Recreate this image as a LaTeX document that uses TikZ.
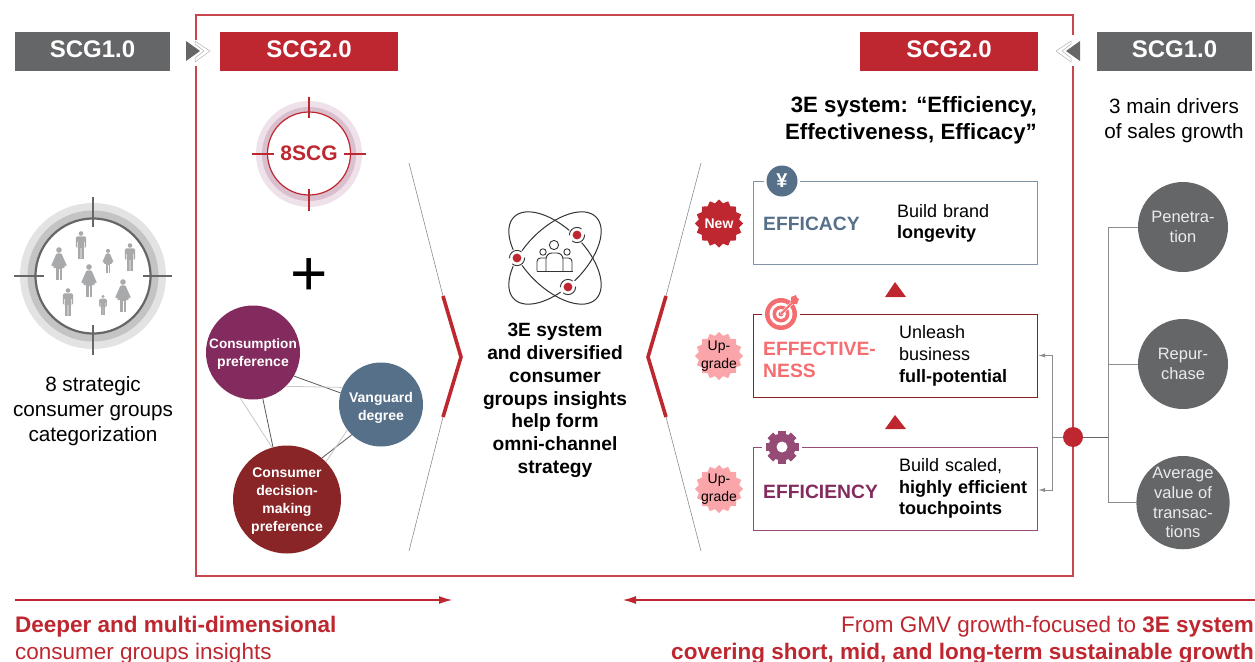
\documentclass[tikz,border=0pt]{standalone}
\usepackage{fontspec}
\setmainfont{Liberation Sans}
\usetikzlibrary{positioning,shapes.geometric,arrows.meta}
\definecolor{scgred}{HTML}{BE2730}
\definecolor{scggray}{HTML}{656668}
\definecolor{plum}{HTML}{832A5E}
\definecolor{slate}{HTML}{567089}
\definecolor{coral}{HTML}{F46D70}
\definecolor{wine}{HTML}{892527}
\definecolor{pink}{HTML}{FAA5A9}
\definecolor{person}{HTML}{A8A9AB}
\newcommand{\fsz}[2]{\fontsize{#1}{#2}\selectfont}
\newcommand{\lift}[1]{\rule{0pt}{#1pt}}
\tikzset{
  man/.pic={
    \fill[person] (0,-11.5) circle (2.3);
    \fill[person,rounded corners=1.5] (-5.2,-8.6) rectangle (5.2,3);
    \fill[person] (-3.2,-8) rectangle (3.2,13.5);
    \fill[white] (-3.6,-3) rectangle (-3.1,3.2) (3.1,-3) rectangle (3.6,3.2) (-.3,3) rectangle (.3,13.6);
  },
  woman/.pic={
    \fill[person] (0,-14) circle (2.8);
    \fill[person,rounded corners=1] (-2.5,-10.6) -- (2.5,-10.6) -- (8,2) -- (6,2.6) -- (4,-3) -- (6,4) -- (-6,4) -- (-4,-3) -- (-6,2.6) -- (-8,2) -- cycle;
    \fill[person] (-3.4,4) rectangle (3.4,16);
    \fill[white] (-.4,5) rectangle (.4,16.1);
  }
}
\begin{document}
\begin{tikzpicture}[x=1pt,y=-1pt]
\tikzstyle{hdr}=[minimum height=39pt,inner sep=0pt,outer sep=0pt,text=white,text depth=5pt,font=\bfseries\fsz{24}{24}];
\tikzstyle{ball}=[circle,inner sep=0pt,outer sep=0pt,text=white,align=center,font=\bfseries\fsz{14}{18}];
\tikzstyle{driver}=[circle,minimum size=90pt,inner sep=0pt,outer sep=0pt,fill=scggray,text=white!92!black,align=center,font=\fsz{16.5}{19.6}];
\tikzstyle{card}=[rectangle,draw,line width=1pt,minimum width=284pt,inner sep=0pt];
\tikzstyle{cardtitle}=[inner sep=0pt,align=left,font=\bfseries\fsz{19.3}{22}];
\tikzstyle{cardtext}=[inner sep=0pt,align=left,text width=135pt,font=\fsz{18}{21.7}];
\tikzstyle{badge}=[star,star points=16,star point ratio=1.17,minimum size=48pt,inner sep=0pt];
\tikzstyle{plain}=[inner sep=0pt,align=center,font=\fsz{20.7}{25}];
\tikzstyle{thinline}=[draw=black!45,line width=.6pt];
\tikzstyle{linkdark}=[draw=black!65,line width=.8pt];
\tikzstyle{linklight}=[draw=black!22,line width=.8pt];
\tikzstyle{tree}=[draw=black!45,line width=1pt];
\tikzstyle{chev}=[draw=black!30,fill=white,line width=.5pt];
\useasboundingbox (0,0) rectangle (1255,661);
% frame, open at the two chevrons
\draw[scgred!85!white,line width=1.2pt] (196,40) -- (196,15) -- (1073,15) -- (1073,35);
\draw[scgred!85!white,line width=1.2pt] (1073,66) -- (1073,576) -- (196,576) -- (196,66);
% headers
\node[hdr,fill=scggray,minimum width=155pt] (scga) at (92.5,51.5) {SCG1.0};
\node[hdr,fill=scgred,minimum width=178pt] (scgb) [right=50pt of scga] {SCG2.0};
\node[hdr,fill=scgred,minimum width=178pt] (scgc) at (949,51.5) {SCG2.0};
\node[hdr,fill=scggray,minimum width=155pt] (scgd) [right=59pt of scgc] {SCG1.0};
\draw[chev] (195,41) -- (210,51) -- (195,62) -- (195,58) -- (204,51) -- (195,44) -- cycle;
\fill[scggray] (186,41) -- (200,51) -- (186,61) -- cycle;
\draw[chev] (1071,41) -- (1056,51) -- (1071,62) -- (1071,58) -- (1062,51) -- (1071,44) -- cycle;
\fill[scggray] (1080,41) -- (1066,51) -- (1080,61) -- cycle;
% left target
\fill[black!11] (93,276) circle (73);
\fill[black!23] (93,276) circle (65.5);
\node[circle,draw=scggray,line width=2.2pt,fill=white,minimum size=115pt,inner sep=0pt] (crowd) at (93,276) {};
\draw[scggray,line width=1.6pt] (14,276) -- (44,276) (143,276) -- (172,276);
\draw[scggray,line width=2.2pt] (93,197) -- (93,227) (93,325) -- (93,355);
\pic at (81,245) {man};
\pic at (130,257) {man};
\pic at (68,302) {man};
\pic[scale=.74] at (103,305) {man};
\pic at (59,264) {woman};
\pic[scale=.72] at (108,261) {woman};
\pic at (89,281) {woman};
\pic at (123,296) {woman};
\node[plain] (crowdtext) at (93,411.5) {8 strategic\\consumer groups\\categorization};
% 8SCG target
\fill[plum!14] (309,154) circle (53);
\fill[plum!30] (309,154) circle (47);
\node[circle,draw=scgred,line width=1.2pt,fill=white,minimum size=83pt,inner sep=0pt,text=scgred,font=\bfseries\fsz{21}{21}] (scg) at (309,153.5) {8SCG};
\draw[scgred,line width=1.2pt] (252,154) -- (274,154) (344,154) -- (366,154) (309,97) -- (309,118) (309,189) -- (309,211);
\node[inner sep=0pt,font=\fsz{64}{64}] (plus) at (309,277) {+};
% three preference balls
\node[ball,fill=plum,minimum size=94pt] (cp) at (253,352.5) {\fsz{13.6}{18}\lift{12}Consumption\\preference};
\node[ball,fill=slate,minimum size=84pt] (vd) at (381,404.5) {\fsz{14}{16.5}\lift{17}Vanguard\\degree};
\node[ball,fill=wine,minimum size=108pt] (cd) at (287,499.5) {\lift{12}Consumer\\decision-\\making\\preference};
\path[linkdark] (cp.-30) edge (vd.164);
\path[linklight] (cp.-46) edge (vd.156);
\path[linkdark] (cp.-78) edge (cd.105);
\path[linklight] (cp.-106) edge (cd.106);
\path[linkdark] (vd.-134) edge (cd.50);
\path[linklight] (vd.-143) edge (cd.44);
% chevrons
\draw[thinline] (409,163) -- (443,296) (443,417) -- (409,551);
\draw[thinline] (701,163) -- (666,296) (666,417) -- (701,551);
\draw[scgred,line width=3.6pt,miter limit=8] (443,296) -- (461,357) -- (443,417);
\draw[scgred,line width=3.6pt,miter limit=8] (666,296) -- (648,357) -- (666,417);
% atom icon
\node[inner sep=0pt] (atom) at (555,258) {};
\draw[black!80,line width=1pt,rotate around={45:(atom)}] (atom) ellipse (58 and 30);
\draw[black!80,line width=1pt,rotate around={-45:(atom)}] (atom) ellipse (58 and 30);
\foreach \px/\py/\nm in {577/235/one,517/258/two,568/287/three}{
  \node[circle,fill=white,minimum size=18pt,inner sep=0pt] (\nm) at (\px,\py) {};
  \draw[black!80,line width=.9pt,dash pattern=on 17pt off 6.5pt] (\nm) circle (7.6);
  \fill[scgred] (\nm) circle (4.4);
}
\draw[black!80,line width=.9pt] (554,245) circle (4.6) (543,252) circle (3.2) (567,252) circle (3.2);
\draw[black!80,line width=.9pt,rounded corners=3.5pt] (537,271) -- (537,258) -- (546,258);
\draw[black!80,line width=.9pt,rounded corners=3.5pt] (572,271) -- (572,258) -- (563,258);
\draw[black!80,line width=.9pt,rounded corners=6pt] (546,271) -- (546,253) -- (563,253) -- (563,271);
\draw[black!80,line width=.9pt] (536.5,271) -- (572.5,271);
\node[inner sep=0pt,align=center,font=\bfseries\fsz{19.2}{22.8}] (omni) at (555,400.5) {3E system\\and diversified\\consumer\\groups insights\\help form\\omni-channel\\strategy};
% right hand title
\node[inner sep=0pt,align=right,anchor=east,font=\bfseries\fsz{22.2}{27}] (threee) at (1037,120.5) {3E system: “Efficiency,\\Effectiveness, Efficacy”};
\node[plain] (drivers) at (1174,121) {3 main drivers\\of sales growth};
% cards
\node[card,draw=slate!75!white,minimum height=83pt] (efcy) at (895.5,223) {};
\node[card,draw=scgred!75!black,minimum height=83pt] (efft) at (895.5,355.5) {};
\node[card,draw=plum!85!white,minimum height=83pt] (effc) at (895.5,488.5) {};
\node[cardtitle,text=slate] (efcyname) [right=10pt of efcy.west,yshift=-1pt] {EFFICACY};
\node[cardtitle,text=coral] (efftname) [right=10pt of efft.west,yshift=-4.5pt] {EFFECTIVE-\\NESS};
\node[cardtitle,text=plum] (effcname) [right=10pt of effc.west,yshift=-3.5pt] {EFFICIENCY};
\node[cardtext] (efcytext) [right=144pt of efcy.west,yshift=-.5pt] {Build brand\\\textbf{longevity}};
\node[cardtext] (effttext) [right=146pt of efft.west,yshift=-.5pt] {Unleash\\business\\\textbf{full-potential}};
\node[cardtext] (effctext) [right=146pt of effc.west] {Build scaled,\\\textbf{highly efficient}\\\textbf{touchpoints}};
\fill[scgred] (895,282) -- (906,297) -- (885,297) -- cycle;
\fill[scgred] (895,415) -- (906,429) -- (885,429) -- cycle;
% card icons
\fill[white] (782,181) circle (18);
\node[circle,fill=slate,minimum size=31pt,inner sep=0pt,text=white,font=\bfseries\fsz{20}{20}] (yen) at (782,181) {¥};
\fill[white] (781,313) circle (19);
\fill[coral] (781,314) circle (16);
\fill[white] (781,314) circle (11.5);
\fill[coral] (781,314) circle (8.5);
\fill[white] (781,314) circle (5);
\fill[coral] (781,314) circle (2.5);
\draw[white,line width=3pt] (781,314) -- (794,301);
\draw[coral,line width=1.8pt] (781,314) -- (794,301);
\fill[coral] (791,302) -- (791,297) -- (796,295) -- (797,298) -- (799,299) -- (797,304) -- (793,304) -- cycle;
\fill[white] (782,447) circle (20);
\foreach \a in {0,45,90,135}{
  \fill[plum!85!white,rotate around={\a:(782,447)}] (778,430.5) rectangle (786,463.5);
}
\fill[plum!85!white] (782,447) circle (13.5);
\fill[white] (782,447) circle (5.5);
% badges
\node[badge,fill=scgred,label={[font=\bfseries\fsz{14}{17},text=white]center:New}] (newb) at (719,223.5) {};
\node[badge,fill=pink,label={[align=center,font=\fsz{14}{17.5}]center:Up-\\grade}] (upa) at (719,356) {};
\node[badge,fill=pink,label={[align=center,font=\fsz{14}{17.5}]center:Up-\\grade}] (upb) at (719,489) {};
% drivers and their tree
\node[driver] (pen) at (1183,227) {Penetra-\\tion};
\node[driver] (rep) [below=47pt of pen] {Repur-\\chase};
\node[driver] (avg) [below=47pt of rep] {Average\\value of\\transac-\\tions};
\node[circle,fill=scgred,minimum size=20pt,inner sep=0pt] (hub) at (1073,437) {};
\coordinate (split) at (1052,437);
\coordinate (trunk) at (1108.5,437);
\draw[tree] (hub) -- (split);
\draw[tree,-{Latex[length=7pt,width=4pt]}] (split) |- (efft.east);
\draw[tree,-{Latex[length=7pt,width=4pt]}] (split) |- (effc.east |- 1052,490);
\draw[draw=black!60,line width=1pt] (hub) -- (trunk);
\draw[tree] (trunk) |- (pen.west);
\draw[tree] (trunk) |- (rep.west);
\draw[tree] (trunk) |- (avg.west);
% bottom arrows and captions
\coordinate (lefta) at (15,600);
\coordinate (leftb) at (453,600);
\coordinate (righta) at (1255,600);
\coordinate (rightb) at (622,600);
\draw[scgred,line width=2.2pt,-{Latex[length=14pt,width=8pt]}] (lefta) -- (leftb);
\draw[scgred,line width=2.2pt,-{Latex[length=14pt,width=8pt]}] (righta) -- (rightb);
\node[inner sep=0pt,anchor=north west,align=left,text=scgred,font=\fsz{22.5}{27}] (capa) at (15,616) {\textbf{Deeper and multi-dimensional}\\consumer groups insights};
\node[inner sep=0pt,anchor=north east,align=right,text=scgred,font=\fsz{22.5}{27}] (capb) at (1254,616) {From GMV growth-focused to \textbf{3E system}\\\textbf{covering short, mid, and long-term sustainable growth}};
\end{tikzpicture}
\end{document}
